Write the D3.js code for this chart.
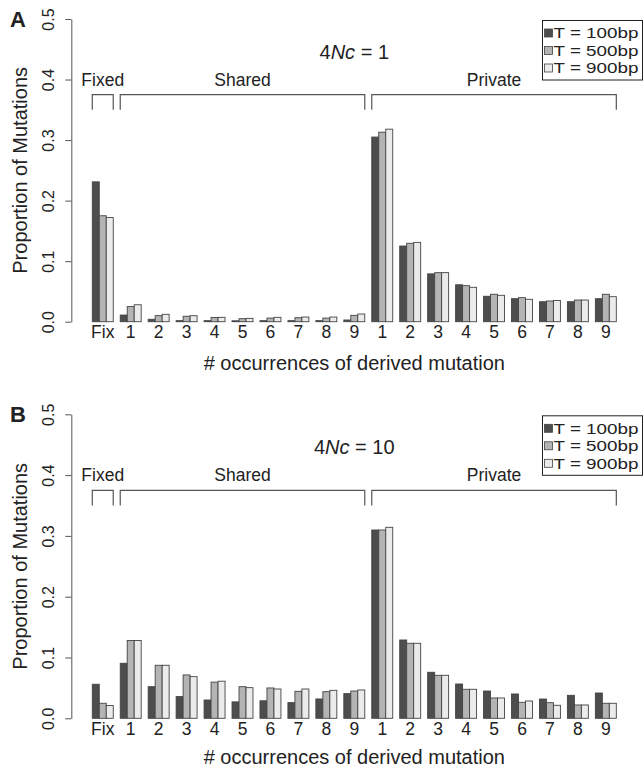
<!DOCTYPE html>
<html>
<head>
<meta charset="utf-8">
<script src="https://cdn.jsdelivr.net/npm/d3@7"></script>
<style>
  body { margin: 0; background: #fff; }
  svg text { font-family: "Liberation Sans", Arial, Helvetica, sans-serif; fill: #222; }
</style>
</head>
<body>
<div id="chart"></div>
<script>
// categories: fixed, shared 1-9, private 1-9
const categories = ["Fix", "S1", "S2", "S3", "S4", "S5", "S6", "S7", "S8", "S9",
                    "P1", "P2", "P3", "P4", "P5", "P6", "P7", "P8", "P9"];
const tickLabels = ["Fix", "1", "2", "3", "4", "5", "6", "7", "8", "9",
                    "1", "2", "3", "4", "5", "6", "7", "8", "9"];
const seriesNames = ["T = 100bp", "T = 500bp", "T = 900bp"];
const yTicks = [0, 0.1, 0.2, 0.3, 0.4, 0.5];

// panel A, 4Nc = 1
const nc1_100 = [0.231, 0.011, 0.004, 0.0017, 0.0017, 0.0015, 0.0017, 0.0017, 0.0017, 0.0028,
                 0.305, 0.125, 0.079, 0.061, 0.042, 0.038, 0.033, 0.033, 0.038];
const nc1_500 = [0.175, 0.025, 0.010, 0.009, 0.007, 0.005, 0.006, 0.0066, 0.006, 0.0105,
                 0.313, 0.1295, 0.081, 0.0595, 0.0453, 0.0397, 0.0342, 0.0358, 0.0453];
const nc1_900 = [0.172, 0.028, 0.0122, 0.0099, 0.0072, 0.0055, 0.0072, 0.0077, 0.0077, 0.0127,
                 0.318, 0.131, 0.081, 0.0568, 0.0436, 0.037, 0.035, 0.0358, 0.0413];

// panel B, 4Nc = 10
const nc10_100 = [0.056, 0.0905, 0.052, 0.0357, 0.0301, 0.027, 0.0288, 0.0258, 0.0318, 0.0406,
                  0.3097, 0.1288, 0.0757, 0.0564, 0.0449, 0.040, 0.0317, 0.0378, 0.0416];
const nc10_500 = [0.0247, 0.128, 0.0872, 0.0713, 0.0595, 0.052, 0.0499, 0.0444, 0.0438, 0.0449,
                  0.3097, 0.1234, 0.0707, 0.0477, 0.0334, 0.0263, 0.0257, 0.0219, 0.0247];
const nc10_900 = [0.021, 0.128, 0.0872, 0.0685, 0.061, 0.0504, 0.0482, 0.0482, 0.046, 0.0466,
                  0.3141, 0.1234, 0.0707, 0.0477, 0.0334, 0.0285, 0.0214, 0.0219, 0.0247];

// bracket groups
const brackets = [
  { label: "Fixed", from: "Fix", to: "Fix" },
  { label: "Shared", from: "S1", to: "S9" },
  { label: "Private", from: "P1", to: "P9" }
];

const colors = ["#4d4d4d", "#b4b4b4", "#ebebeb"];

const panels = [
  { letter: "A", nc: "1", data: [nc1_100, nc1_500, nc1_900], top: 19, bottom: 321.7, tickY: 332, titleY: 363 },
  { letter: "B", nc: "10", data: [nc10_100, nc10_500, nc10_900], top: 414.3, bottom: 718.3, tickY: 729, titleY: 757 }
];

const width = 643, height = 773;
const svg = d3.select("#chart").append("svg")
  .attr("width", width)
  .attr("height", height);

// x in barplot units: unit 0 at 85.3px, 6.987px per unit
const u = d3.scaleLinear().domain([0, 77]).range([85.3, 85.3 + 77 * 6.987]);
const x0 = d3.scaleBand().domain(categories).range([u(0), u(77)])
  .paddingInner(0.25).paddingOuter(0.25);
const x1 = d3.scaleBand().domain(d3.range(3)).range([0, x0.bandwidth()]);
const axisX = u(-2);

panels.forEach(p => {
  const y = d3.scaleLinear().domain([0, 0.5]).range([p.bottom, p.top]);
  const g = svg.append("g");

  // Balken
  p.data.forEach((vals, s) => {
    g.selectAll(null)
      .data(vals)
      .join("rect")
      .attr("x", (d, i) => x0(categories[i]) + x1(s))
      .attr("y", d => y(d))
      .attr("width", x1.bandwidth())
      .attr("height", d => y(0) - y(d))
      .attr("fill", colors[s])
      .attr("stroke", "#444")
      .attr("stroke-width", 0.9);
  });

  // y axis
  const yAxis = g.append("g")
    .attr("transform", `translate(${axisX},0)`)
    .call(d3.axisLeft(y).tickValues(yTicks).tickFormat(d3.format(".1f")).tickSize(6).tickSizeOuter(0));
  yAxis.select(".domain").attr("stroke", "#555");
  yAxis.selectAll(".tick line").attr("stroke", "#555");
  yAxis.selectAll(".tick text")
    .attr("x", null).attr("dy", "0.35em")
    .attr("transform", "translate(-22.7,0) rotate(-90)")
    .attr("text-anchor", "middle")
    .style("font-size", "16px");

  // x labels
  const xAxis = g.append("g")
    .attr("transform", `translate(0,${p.tickY})`)
    .call(d3.axisBottom(x0).tickSize(0).tickFormat((d, i) => tickLabels[i]));
  xAxis.select(".domain").remove();
  xAxis.selectAll(".tick text")
    .attr("y", 0).attr("dy", "0.35em")
    .style("font-size", "17.5px");

  // axis titles
  g.append("text")
    .attr("x", (axisX + u(79)) / 2)
    .attr("y", p.titleY)
    .attr("dy", "0.35em")
    .attr("text-anchor", "middle")
    .style("font-size", "20px")
    .text("# occurrences of derived mutation");

  g.append("text")
    .attr("transform", `translate(20,${(p.top + p.bottom) / 2}) rotate(-90)`)
    .attr("dy", "0.35em")
    .attr("text-anchor", "middle")
    .style("font-size", "20px")
    .text("Proportion of Mutations");

  // panel letter
  g.append("text")
    .attr("x", 10)
    .attr("y", p.top + 8)
    .style("font-size", "22px")
    .style("font-weight", "bold")
    .text(p.letter);

  // title 4Nc = ...
  const t = g.append("text")
    .attr("x", (axisX + u(79)) / 2)
    .attr("y", y(0.446))
    .attr("dy", "0.35em")
    .attr("text-anchor", "middle")
    .style("font-size", "20px");
  t.append("tspan").text("4");
  t.append("tspan").style("font-style", "italic").text("Nc");
  t.append("tspan").text(" = " + p.nc);

  // Klammern
  brackets.forEach(b => {
    const xa = x0(b.from), xb = x0(b.to) + x0.bandwidth();
    g.append("path")
      .attr("d", `M${xa},${y(0.35)}V${y(0.375)}H${xb}V${y(0.35)}`)
      .attr("fill", "none")
      .attr("stroke", "#555")
      .attr("stroke-width", 1.2);
    g.append("text")
      .attr("x", (xa + xb) / 2)
      .attr("y", y(0.4))
      .attr("dy", "0.35em")
      .attr("text-anchor", "middle")
      .style("font-size", "17.5px")
      .text(b.label);
  });

  // legend
  const lx = 542.5, ly = p.top + 1.5;
  const leg = g.append("g");
  leg.append("rect")
    .attr("x", lx).attr("y", ly)
    .attr("width", 100).attr("height", 59.5)
    .attr("fill", "#fff").attr("stroke", "#222").attr("stroke-width", 1);
  seriesNames.forEach((name, s) => {
    const cy = ly + 12.5 + s * 17.5;
    leg.append("rect")
      .attr("x", lx + 2).attr("y", cy - 4)
      .attr("width", 8).attr("height", 8)
      .attr("fill", colors[s]).attr("stroke", "#444").attr("stroke-width", 0.8);
    leg.append("text")
      .attr("x", lx + 11)
      .attr("y", cy)
      .attr("dy", "0.35em")
      .attr("textLength", 85)
      .attr("lengthAdjust", "spacingAndGlyphs")
      .style("font-size", "15.5px")
      .text(name);
  });
});
</script>
</body>
</html>
